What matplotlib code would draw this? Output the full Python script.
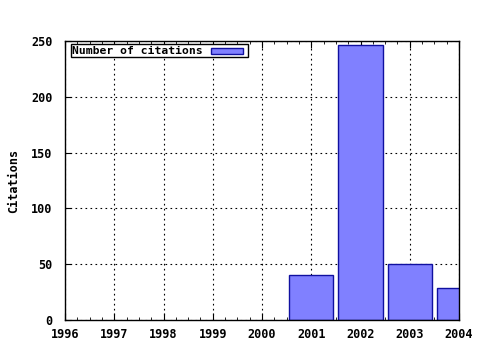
import matplotlib
matplotlib.use("Agg")
import matplotlib.pyplot as plt
from matplotlib.ticker import MultipleLocator
from matplotlib.patches import Rectangle

plt.rcParams["font.family"] = ["DejaVu Sans Mono"]
plt.rcParams["font.weight"] = "bold"

years = [2001, 2002, 2003, 2004]
citations = [40, 246, 50, 29]
xticks = list(range(1996, 2005))
yticks = [0, 50, 100, 150, 200, 250]

fig = plt.figure(figsize=(4.8, 3.5), dpi=100)
ax = fig.add_axes([65 / 480, 30 / 350, 394 / 480, 279 / 350])

ax.bar(years, citations, width=0.9, color="#8080ff", edgecolor="#1010a0",
       linewidth=1.0, zorder=3, clip_on=True)

ax.set_xlim(1996, 2004)
ax.set_ylim(0, 250)
ax.set_xticks(xticks)
ax.set_yticks(yticks)
ax.xaxis.set_minor_locator(MultipleLocator(0.25))
ax.tick_params(axis="x", which="both", direction="in", top=True, bottom=True,
               labelsize=8.5, pad=6)
ax.tick_params(axis="x", which="major", length=5)
ax.tick_params(axis="x", which="minor", length=2.5)
ax.tick_params(axis="y", which="major", direction="in", length=4, right=False,
               labelsize=8.5, pad=9)
for lab in ax.get_xticklabels() + ax.get_yticklabels():
    lab.set_fontweight("bold")

ax.grid(True, which="major", color="black", linestyle=(0, (1.5, 3)), linewidth=0.8,
        zorder=1)
for s in ax.spines.values():
    s.set_linewidth(1.0)
    s.set_zorder(4)

ax.set_ylabel("Citations", fontsize=8.5, fontweight="bold")
ax.yaxis.set_label_coords(-0.115, 0.5)

# legend box as in gnuplot
ax.add_patch(Rectangle((71 / 480, 293 / 350), 177 / 480, 13 / 350,
                       transform=fig.transFigure, facecolor="white",
                       edgecolor="black", linewidth=1.0, zorder=5, figure=fig))
fig.text(72 / 480, 299.5 / 350, "Number of citations", fontsize=8.2,
         fontweight="bold", va="center", ha="left", zorder=6)
fig.patches.append(Rectangle((211 / 480, 296.5 / 350), 32 / 480, 6 / 350,
                             transform=fig.transFigure, facecolor="#8080ff",
                             edgecolor="#1010a0", linewidth=1.0, zorder=7,
                             figure=fig))

fig.savefig("out.png", dpi=100)
